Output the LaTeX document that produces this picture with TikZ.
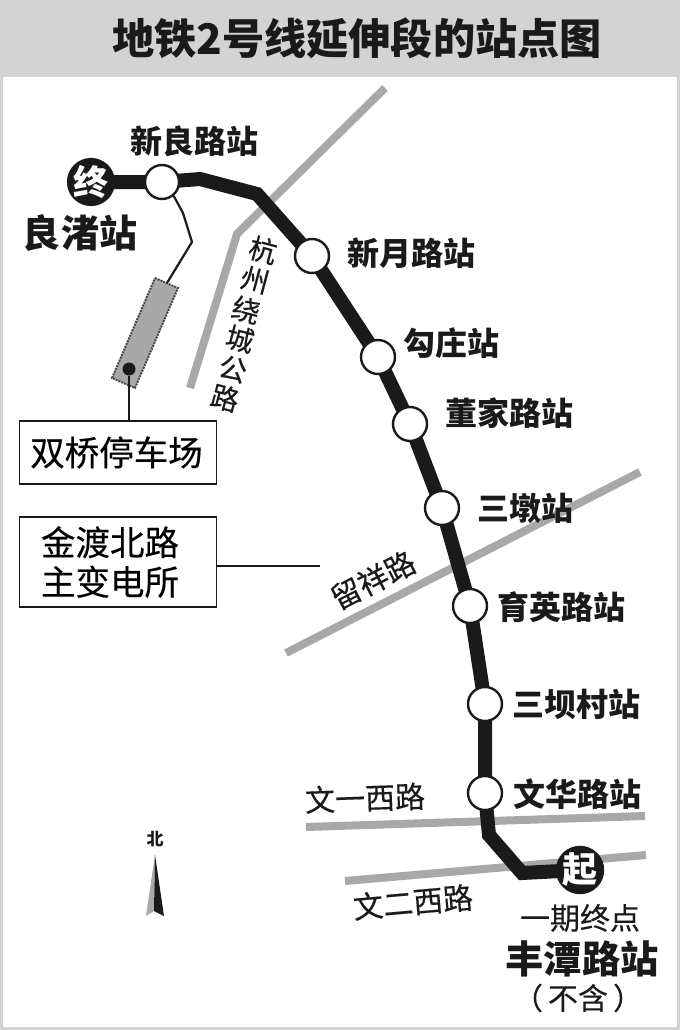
\documentclass[tikz,border=0pt]{standalone}
\usepackage{fontspec}
\setmainfont{Noto Sans CJK SC}
\newfontfamily\medcjk[FakeBold=0.35]{Noto Sans CJK SC}
\usetikzlibrary{backgrounds}
\definecolor{roadgray}{HTML}{A8A8A8}
\definecolor{headgray}{HTML}{D3D3D3}
\definecolor{inkblack}{HTML}{1A1A1A}
\tikzset{
	station/.style={circle,draw=inkblack,fill=white,line width=2.4pt,minimum size=34pt,inner sep=0pt},
	terminus/.style={circle,fill=inkblack,text=white,minimum size=48pt,inner sep=0pt,font=\fontsize{35}{35}\selectfont\bfseries},
	stationlabel/.style={text=inkblack,inner sep=0pt,font=\fontsize{32}{32}\selectfont\bfseries},
	roadlabel/.style={text=inkblack,inner sep=0pt,font=\medcjk\fontsize{30}{30}\selectfont},
	road/.style={roadgray,line width=8pt},
	metroline/.style={inkblack,line width=14pt},
	infobox/.style={draw=inkblack,line width=1.2pt,minimum width=197pt,inner sep=0pt,font=\medcjk\fontsize{34.5}{39.5}\selectfont}
}
\begin{document}
\begin{tikzpicture}[x=1pt,y=-1pt]
	\useasboundingbox (0,0) rectangle (680,1030);
	\fill[headgray] (0,0) rectangle (680,77);
	\draw[headgray,line width=3pt] (1,77) -- (1,1028.5) -- (678.5,1028.5) -- (678.5,77);
	\node[inner sep=0pt,text=inkblack,font=\fontsize{42.2}{42}\selectfont\bfseries] (title) at (357,38) {地铁2号线延伸段的站点图};

	% stations
	\node[terminus] (LZ) at (91,182) {终};
	\node[station] (XL) at (162,182) {};
	\node[station] (XY) at (312,256) {};
	\node[station] (GZ) at (378,357) {};
	\node[station] (DJ) at (410,424) {};
	\node[station] (SD) at (442,508) {};
	\node[station] (YY) at (470,606) {};
	\node[station] (SB) at (485,704) {};
	\node[station] (WH) at (485,793) {};
	\node[terminus] (FT) at (580,870) {起};

	\node[stationlabel] (XLl) at (194,141) {新良路站};
	\node[stationlabel] (XYl) at (411,253) {新月路站};
	\node[stationlabel] (GZl) at (451,343) {勾庄站};
	\node[stationlabel] (DJl) at (509,413) {董家路站};
	\node[stationlabel] (SDl) at (525,508) {三墩站};
	\node[stationlabel] (YYl) at (561,607) {育英路站};
	\node[stationlabel] (SBl) at (576,704) {三坝村站};
	\node[stationlabel] (WHl) at (577,794) {文华路站};
	\node[stationlabel,font=\fontsize{38}{38}\selectfont\bfseries] (LZl) at (80,233) {良渚站};
	\node[roadlabel] (FTa) at (580,918) {一期终点};
	\node[stationlabel,font=\fontsize{38.3}{38}\selectfont\bfseries] (FTb) at (582,959) {丰潭路站};
	\node[roadlabel] (FTc) at (578,998) {（\kern5pt 不含\kern5pt ）};

	% depot and substation
	\node[infobox,minimum height=63pt] (depot) at (118,452.5) {\hspace*{-3pt}双桥停车场};
	\node[infobox,minimum height=90pt,align=center] (power) at (118,562) {\hspace*{-16pt}金渡北路\\\hspace*{-16pt}主变电所};
	\coordinate (powerend) at (320,566);
	\draw[inkblack,line width=1.5pt] (power.east |- powerend) -- (powerend);
	\coordinate (D1) at (155,278);
	\coordinate (D2) at (178,288);
	\coordinate (D3) at (135,388);
	\coordinate (D4) at (112,378);
	\coordinate (B1) at (183,213);
	\coordinate (B2) at (192,242);
	\coordinate (B3) at (167,283);
	\draw[inkblack!80,fill=roadgray,line width=2pt,densely dotted] (D1) -- (D2) -- (D3) -- (D4) -- cycle;
	\node[circle,fill=inkblack,minimum size=13pt,inner sep=0pt] (depotdot) at (129,369) {};
	\draw[inkblack,line width=2.2pt] (depotdot) -- (depotdot |- depot.north);
	\draw[inkblack,line width=2.2pt] (XL.-50) -- (B1) -- (B2) -- (B3);

	% roads
	\begin{scope}[on background layer]
		\coordinate (R1) at (385,88);
		\coordinate (R2) at (237,234);
		\coordinate (R3) at (190,388);
		\coordinate (L1) at (640,472);
		\coordinate (L2) at (286,653);
		\coordinate (W1) at (306,827);
		\coordinate (W2) at (645,816);
		\coordinate (E1) at (345,881);
		\coordinate (E2) at (646,855);
		\draw[road] (R1) -- (R2) -- (R3);
		\draw[road] (L1) -- (L2);
		\draw[road] (W1) -- (W2);
		\draw[road] (E1) -- (E2);
	\end{scope}
	\begin{scope}[on background layer]
		\coordinate (M1) at (200,179);
		\coordinate (M2) at (257,194);
		\coordinate (M3) at (489,835);
		\coordinate (M4) at (522,873);
		\draw[metroline] (LZ.center) -- (XL.center) -- (M1) -- (M2) -- (XY.center) -- (GZ.center) -- (DJ.center)
			-- (SD.center) -- (YY.center) -- (SB.center) -- (WH.center) -- (M3) -- (M4) -- (FT.center);
	\end{scope}

	% road names
	\foreach \ch/\x/\y/\n in {杭/263/250/a,州/255/280/b,绕/246/310/c,城/240/339/d,公/233/369/e,路/225/398/f}
		\node[roadlabel,font=\medcjk\fontsize{28}{28}\selectfont,rotate=-15] (hz\n) at (\x,\y) {\ch};
	\node[roadlabel,rotate=27] (lx) at (373,580) {留祥路};
	\node[roadlabel,rotate=2] (wy) at (365,798) {文一西路};
	\node[roadlabel,rotate=5] (we) at (413,902) {文二西路};

	% compass
	\node[inner sep=0pt,text=inkblack,font=\fontsize{17}{17}\selectfont\bfseries] (north) at (155,839) {北};
	\coordinate (T) at (155,855);
	\coordinate (Tl) at (146,916);
	\coordinate (Tr) at (164,916);
	\coordinate (Tn) at (154,911);
	\fill[roadgray] (T) -- (Tl) -- (Tn) -- cycle;
	\fill[inkblack] (T) -- (Tr) -- (Tn) -- cycle;
\end{tikzpicture}
\end{document}
